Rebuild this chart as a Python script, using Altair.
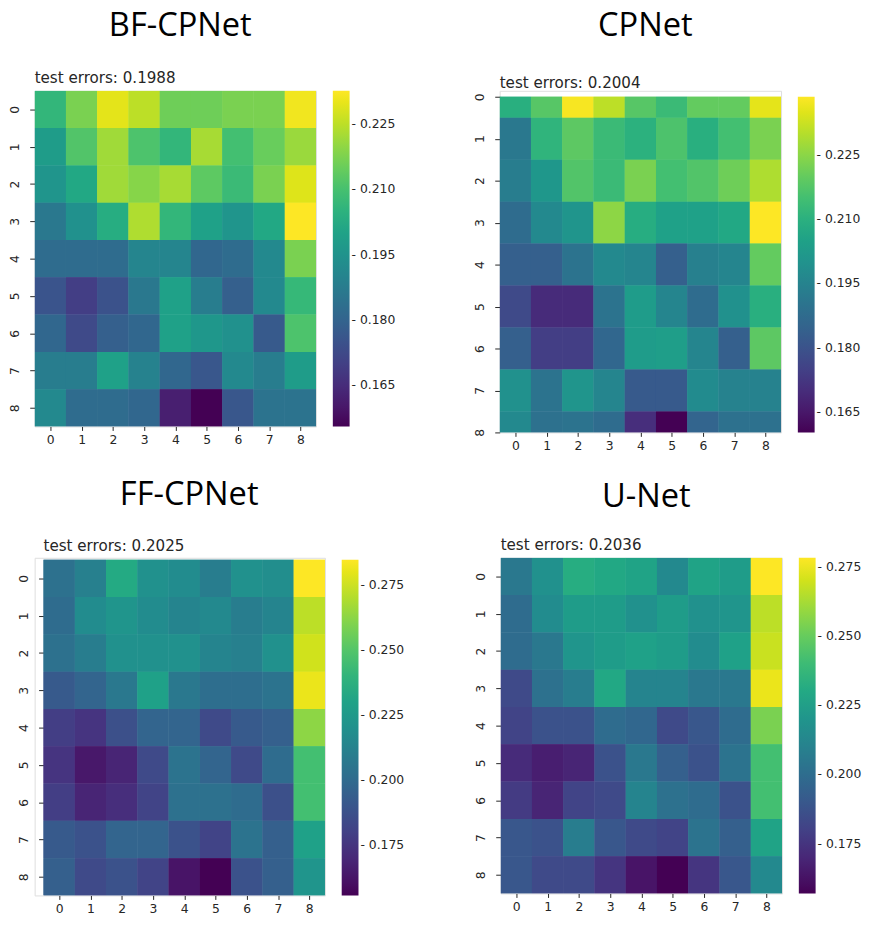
import altair as alt
import pandas as pd

# ---------------- data ----------------
ROWS = list(range(9))
COLS = list(range(9))

names = ["BF-CPNet", "CPNet", "FF-CPNet", "U-Net"]
test_errors = ["test errors: 0.1988", "test errors: 0.2004", "test errors: 0.2025", "test errors: 0.2036"]

bf_cpnet = [
    [0.2064, 0.2172, 0.2295, 0.2249, 0.2157, 0.2157, 0.2172, 0.2172, 0.2311],
    [0.1980, 0.2118, 0.2218, 0.2110, 0.2064, 0.2226, 0.2095, 0.2149, 0.2211],
    [0.1956, 0.2018, 0.2218, 0.2187, 0.2226, 0.2134, 0.2080, 0.2172, 0.2288],
    [0.1864, 0.1941, 0.2033, 0.2234, 0.2064, 0.1995, 0.1956, 0.2018, 0.2326],
    [0.1826, 0.1826, 0.1826, 0.1903, 0.1903, 0.1810, 0.1826, 0.1918, 0.2172],
    [0.1756, 0.1695, 0.1749, 0.1864, 0.1995, 0.1879, 0.1787, 0.1918, 0.2072],
    [0.1810, 0.1725, 0.1787, 0.1810, 0.1995, 0.1964, 0.1941, 0.1772, 0.2110],
    [0.1879, 0.1879, 0.1995, 0.1895, 0.1810, 0.1764, 0.1918, 0.1879, 0.1980],
    [0.1918, 0.1826, 0.1826, 0.1810, 0.1618, 0.1556, 0.1764, 0.1849, 0.1849],
]
cpnet = [
    [0.2096, 0.2182, 0.2378, 0.2308, 0.2182, 0.2135, 0.2198, 0.2198, 0.2355],
    [0.1916, 0.2112, 0.2190, 0.2135, 0.2104, 0.2166, 0.2096, 0.2151, 0.2229],
    [0.1931, 0.2018, 0.2174, 0.2135, 0.2229, 0.2151, 0.2174, 0.2214, 0.2292],
    [0.1876, 0.1970, 0.2010, 0.2253, 0.2088, 0.2049, 0.2049, 0.2072, 0.2386],
    [0.1837, 0.1837, 0.1900, 0.1970, 0.1955, 0.1837, 0.1939, 0.1955, 0.2198],
    [0.1774, 0.1696, 0.1696, 0.1900, 0.2033, 0.1955, 0.1876, 0.1994, 0.2096],
    [0.1837, 0.1743, 0.1743, 0.1861, 0.2033, 0.2041, 0.1955, 0.1837, 0.2190],
    [0.1994, 0.1900, 0.2010, 0.1955, 0.1822, 0.1822, 0.1978, 0.1947, 0.1947],
    [0.1970, 0.1892, 0.1900, 0.1876, 0.1704, 0.1602, 0.1853, 0.1892, 0.1892],
]
ff_cpnet = [
    [0.2033, 0.2110, 0.2340, 0.2201, 0.2175, 0.2097, 0.2201, 0.2188, 0.2848],
    [0.2007, 0.2175, 0.2227, 0.2175, 0.2136, 0.2162, 0.2097, 0.2136, 0.2719],
    [0.2033, 0.2097, 0.2201, 0.2201, 0.2201, 0.2136, 0.2110, 0.2201, 0.2757],
    [0.1916, 0.1968, 0.2072, 0.2290, 0.2072, 0.2020, 0.2020, 0.2046, 0.2809],
    [0.1787, 0.1748, 0.1865, 0.1968, 0.1968, 0.1839, 0.1916, 0.1942, 0.2628],
    [0.1748, 0.1632, 0.1683, 0.1839, 0.2046, 0.1968, 0.1839, 0.2007, 0.2460],
    [0.1787, 0.1683, 0.1722, 0.1813, 0.2033, 0.2033, 0.2007, 0.1865, 0.2460],
    [0.1916, 0.1878, 0.1968, 0.1968, 0.1878, 0.1813, 0.2046, 0.1942, 0.2292],
    [0.1942, 0.1839, 0.1878, 0.1813, 0.1619, 0.1554, 0.1878, 0.1942, 0.2227],
]
u_net = [
    [0.2055, 0.2176, 0.2321, 0.2297, 0.2273, 0.2140, 0.2273, 0.2237, 0.2782],
    [0.1994, 0.2152, 0.2237, 0.2237, 0.2176, 0.2237, 0.2176, 0.2200, 0.2661],
    [0.1994, 0.2055, 0.2200, 0.2237, 0.2261, 0.2237, 0.2152, 0.2261, 0.2685],
    [0.1837, 0.2018, 0.2079, 0.2297, 0.2115, 0.2115, 0.2055, 0.2055, 0.2746],
    [0.1812, 0.1873, 0.1873, 0.1994, 0.1970, 0.1837, 0.1897, 0.1994, 0.2540],
    [0.1715, 0.1667, 0.1691, 0.1873, 0.2055, 0.1934, 0.1873, 0.2031, 0.2418],
    [0.1776, 0.1691, 0.1812, 0.1837, 0.2115, 0.2018, 0.1994, 0.1873, 0.2418],
    [0.1897, 0.1873, 0.2079, 0.1897, 0.1837, 0.1812, 0.2031, 0.1934, 0.2273],
    [0.1897, 0.1837, 0.1837, 0.1752, 0.1631, 0.1570, 0.1752, 0.1897, 0.2140],
]
matrices = [bf_cpnet, cpnet, ff_cpnet, u_net]

colorbar_ticks = [
    [0.165, 0.180, 0.195, 0.210, 0.225],
    [0.165, 0.180, 0.195, 0.210, 0.225],
    [0.175, 0.200, 0.225, 0.250, 0.275],
    [0.175, 0.200, 0.225, 0.250, 0.275],
]
# CPNet's heatmap shows only half of its first and last rows
half_rows = [False, True, False, False]

# ---------------- layout / style ----------------
# dx, dy: shift of the heatmap inside its panel; title_y / sub_y: text baselines
# relative to the panel's top edge
layout = [
    dict(dx=0, dy=0, title_y=-56, sub_y=-8),
    dict(dx=0, dy=6, title_y=-56, sub_y=-3),
    dict(dx=9, dy=2, title_y=-53, sub_y=-7),
    dict(dx=0, dy=0, title_y=-51, sub_y=-8),
]
W, H = 285, 340
TXT = "#262626"
FONT = "DejaVu Sans"


def make_panel(i):
    vals = matrices[i]
    L = layout[i]
    dx, dy = L["dx"], L["dy"]
    df = pd.DataFrame(
        [{"row": r, "col": c, "value": vals[r][c]} for r in ROWS for c in COLS]
    )
    lo = min(min(r) for r in vals)
    hi = max(max(r) for r in vals)
    ydom = [0.5, 8.5] if half_rows[i] else [0, 9]
    centers = [k + 0.5 for k in ROWS]

    heat = (
        alt.Chart(df)
        .transform_calculate(col2="datum.col + 1", row2="datum.row + 1")
        .mark_rect(clip=True)
        .encode(
            x=alt.X(
                "col:Q",
                scale=alt.Scale(domain=[0, 9], range=[dx, dx + W], nice=False, zero=False),
                axis=alt.Axis(
                    values=centers, labelExpr="'' + floor(datum.value)",
                    domain=False, grid=False, tickSize=4, tickColor=TXT,
                    labelFont=FONT, labelFontSize=12.5, labelColor=TXT,
                    labelPadding=3, labelAngle=0, title=None,
                ),
            ),
            x2="col2:Q",
            y=alt.Y(
                "row:Q",
                scale=alt.Scale(domain=ydom, range=[dy, dy + H], nice=False, zero=False, clamp=True),
                axis=alt.Axis(
                    values=centers, labelExpr="'' + floor(datum.value)",
                    domain=False, grid=False, tickSize=5, tickColor=TXT,
                    labelFont=FONT, labelFontSize=12.5, labelColor=TXT,
                    labelPadding=8, labelAngle=270, labelAlign="center",
                    labelBaseline="bottom", title=None, offset=-dx,
                ),
            ),
            y2="row2:Q",
            color=alt.Color(
                "value:Q",
                scale=alt.Scale(scheme="viridis", domain=[lo, hi]),
                legend=alt.Legend(
                    title=None, values=colorbar_ticks[i], type="gradient",
                    gradientLength=H, gradientThickness=17, padding=0,
                    labelFont=FONT, labelFontSize=12.5, labelColor=TXT,
                    labelOffset=2, labelOverlap=False,
                    labelExpr="'- ' + format(datum.value, '.3f')",
                    direction="vertical", orient="none",
                    legendX=dx + W + 17, legendY=dy,
                ),
            ),
        )
    )
    big = (
        alt.Chart(pd.DataFrame({"t": [names[i]]}))
        .mark_text(font="Open Sans", fontSize=33, align="center", baseline="alphabetic", color="black")
        .encode(text="t:N", x=alt.value(dx + W / 2 + 5), y=alt.value(L["title_y"]))
    )
    sub = (
        alt.Chart(pd.DataFrame({"t": [test_errors[i]]}))
        .mark_text(font=FONT, fontSize=15.3, align="left", baseline="alphabetic", color=TXT)
        .encode(text="t:N", x=alt.value(dx), y=alt.value(L["sub_y"]))
    )
    # the cells are drawn twice so that no light seams show between neighbours
    return alt.layer(heat, heat, big, sub).properties(width=W + dx, height=H + dy)


RES = dict(color="independent", x="independent", y="independent")
p = [make_panel(i) for i in range(4)]
row1 = alt.hconcat(p[0], p[1], spacing=77).resolve_scale(**RES)
row2 = alt.hconcat(p[2], p[3], spacing=69).resolve_scale(**RES)
chart = (
    alt.vconcat(row1, row2, spacing=27)
    .resolve_scale(**RES)
    .properties(padding={"left": 0, "top": -5, "right": 0, "bottom": 0})
    .configure_view(stroke=None)
    .configure(background="white")
)

chart.save("out.html", embed_options={"renderer": "svg", "actions": False})
